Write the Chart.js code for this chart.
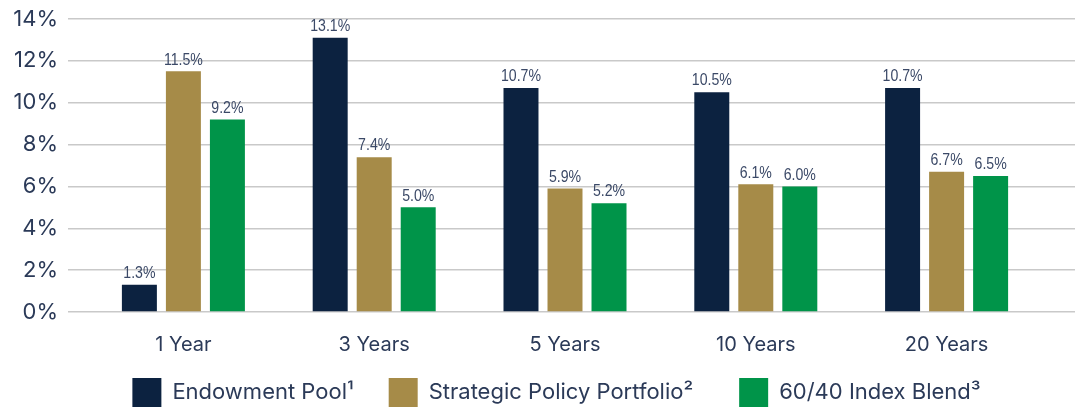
<!DOCTYPE html>
<html>
<head>
<meta charset="utf-8">
<script src="https://cdn.jsdelivr.net/npm/chart.js@4"></script>
<style>
  html, body { margin: 0; padding: 0; background: #ffffff; }
  #wrap { width: 1075px; height: 409px; }
</style>
</head>
<body>
<div id="wrap"><canvas id="returns"></canvas></div>
<script>
const periods = ["1 Year", "3 Years", "5 Years", "10 Years", "20 Years"];
const endowmentPool = [1.3, 13.1, 10.7, 10.5, 10.7];
const strategicPolicy = [11.5, 7.4, 5.9, 6.1, 6.7];
const indexBlend = [9.2, 5.0, 5.2, 6.0, 6.5];
const yTicks = [0, 2, 4, 6, 8, 10, 12, 14];

const textColour = "#2b3a58";
const gridColour = "#c9c9c9";
const axisFont = "Inter, 'Noto Sans', sans-serif";

// value labels over each bar, placed from the bar elements themselves
const barValues = {
    id: "barValues",
    afterDatasetsDraw(chart) {
        const ctx = chart.ctx;
        const squeeze = 0.83; // narrow lettering like the original
        ctx.save();
        ctx.font = "17px 'Liberation Sans', Arial, sans-serif";
        ctx.fillStyle = "#3b4967";
        ctx.textAlign = "center";
        ctx.textBaseline = "bottom";
        ctx.scale(squeeze, 1);
        chart.data.datasets.forEach((ds, i) => {
            chart.getDatasetMeta(i).data.forEach((bar, j) => {
                ctx.fillText(ds.data[j].toFixed(1) + "%", bar.x / squeeze, bar.y - 3);
            });
        });
        ctx.restore();
    }
};

const config = {
    type: "bar",
    data: {
        labels: periods,
        datasets: [
            { label: "Endowment Pool\u00b9\u2003\u2002", data: endowmentPool, backgroundColor: "#0c2240" },
            { label: "Strategic Policy Portfolio\u00b2\u2003\u2003", data: strategicPolicy, backgroundColor: "#a68b48" },
            { label: "60/40 Index Blend\u00b3", data: indexBlend, backgroundColor: "#009449" }
        ]
    },
    options: {
        responsive: true,
        maintainAspectRatio: false,
        animation: false,
        categoryPercentage: 0.692,
        barPercentage: 0.795,
        layout: { padding: { top: 19, left: 0, right: -38, bottom: -8 } },
        plugins: {
            tooltip: { enabled: false },
            legend: {
                position: "bottom",
                labels: {
                    boxWidth: 29,
                    boxHeight: 29,
                    padding: 2,
                    color: textColour,
                    font: { family: axisFont, size: 22 }
                }
            }
        },
        scales: {
            x: {
                grid: { display: false, drawTicks: false },
                border: { display: false },
                ticks: { color: textColour, padding: 21, font: { family: axisFont, size: 20 } },
                afterFit: (scale) => { scale.height = 64; }
            },
            y: {
                min: 0,
                max: 14,
                afterBuildTicks: (scale) => { scale.ticks = yTicks.map(v => ({ value: v })); },
                grid: { color: gridColour, lineWidth: 1.5, drawTicks: true, tickLength: 20 },
                border: { display: false },
                ticks: {
                    color: textColour,
                    padding: 10,
                    font: { family: axisFont, size: 22 },
                    callback: (v) => v + "%"
                },
                afterFit: (scale) => {
                    scale.width = 88;
                    scale.paddingTop = 0;
                    scale.paddingBottom = 0;
                }
            },
            yRight: {
                position: "right",
                min: 0,
                max: 14,
                afterBuildTicks: (scale) => { scale.ticks = yTicks.map(v => ({ value: v })); },
                grid: { color: gridColour, lineWidth: 1.5, drawOnChartArea: false, drawTicks: true, tickLength: 71 },
                border: { display: false },
                ticks: { display: false },
                afterFit: (scale) => {
                    scale.width = 71;
                    scale.paddingTop = 0;
                    scale.paddingBottom = 0;
                }
            }
        }
    },
    plugins: [barValues]
};

new Chart(document.getElementById("returns"), config);
</script>
</body>
</html>
